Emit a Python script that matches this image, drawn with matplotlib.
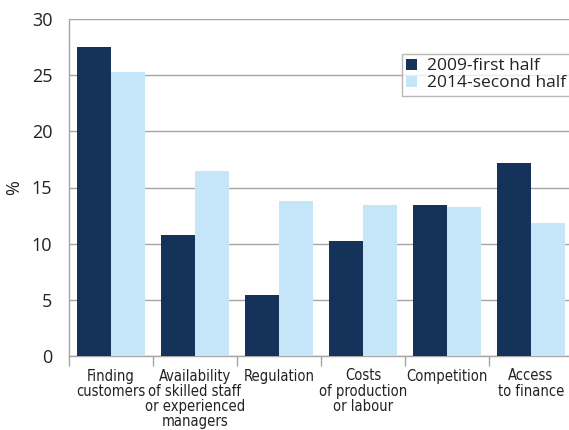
import matplotlib
matplotlib.use("Agg")
import matplotlib.pyplot as plt
from matplotlib import font_manager as fm
import numpy as np

categories = ["Finding\ncustomers",
              "Availability\nof skilled staff\nor experienced\nmanagers",
              "Regulation",
              "Costs\nof production\nor labour",
              "Competition",
              "Access\nto finance"]
series_2009 = [27.5, 10.8, 5.4, 10.2, 13.4, 17.2]
series_2014 = [25.3, 16.5, 13.8, 13.4, 13.3, 11.8]
labels = ["2009-first half", "2014-second half"]
yticks = [0, 5, 10, 15, 20, 25, 30]

dark = "#15335a"
light = "#c5e6f9"
grid_c = "#a6a6a6"
txt_c = "#222222"

plt.rcParams['font.family'] = ['Open Sans', 'DejaVu Sans']

# find a condensed / narrow font if one is installed
narrow = None
for f in fm.fontManager.ttflist:
    n = f.name.lower()
    s = str(f.stretch).lower()
    if ('narrow' in n or 'condensed' in n or 'condensed' in s) and 'bold' not in f.fname.lower() \
            and 'italic' not in f.fname.lower() and 'oblique' not in f.fname.lower():
        narrow = f
        break

fig = plt.figure(figsize=(5.69, 4.30), dpi=100)
ax = fig.add_axes([69/569, 74/430, 504/569, 337/430])

x = np.arange(len(categories))
w = 0.4
ax.bar(x - w/2, series_2009, w, color=dark, label=labels[0], zorder=3)
ax.bar(x + w/2, series_2014, w, color=light, label=labels[1], zorder=3)

ax.set_xlim(-0.5, len(categories) - 0.5)
ax.set_ylim(0, 30)
ax.set_yticks(yticks)
ax.yaxis.grid(True, color=grid_c, linewidth=1.0, zorder=0)
ax.set_axisbelow(True)
for s in ['top', 'right']:
    ax.spines[s].set_visible(False)
for s in ['left', 'bottom']:
    ax.spines[s].set_color(grid_c)
    ax.spines[s].set_linewidth(1.0)

ax.tick_params(axis='y', length=0, pad=12, labelsize=13, labelcolor=txt_c)
ax.set_xticks(np.arange(-0.5, len(categories) - 0.5, 1.0))
ax.set_xticklabels([])
ax.tick_params(axis='x', which='major', length=7, color=grid_c, width=1.0)
ax.set_xticks(x, minor=True)
if narrow is not None:
    fp = fm.FontProperties(fname=narrow.fname, size=10.5)
    ax.set_xticklabels(categories, minor=True, fontproperties=fp,
                       linespacing=1.02, color=txt_c)
else:
    ax.set_xticklabels(categories, minor=True, fontsize=9.5, linespacing=1.02,
                       family=['Roboto', 'DejaVu Sans'], color=txt_c)
ax.tick_params(axis='x', which='minor', length=0, pad=9)

ax.set_ylabel("%", fontsize=13, color=txt_c, labelpad=6)

leg = ax.legend(loc='upper left', bbox_to_anchor=(333/504, 1 - 35/337),
                frameon=True, fancybox=False, edgecolor=grid_c,
                fontsize=12.5, handlelength=0.6, handleheight=0.6,
                handletextpad=0.6, borderpad=0.25, labelspacing=0.05,
                borderaxespad=0)
leg.get_frame().set_linewidth(1.0)
for t in leg.get_texts():
    t.set_color(txt_c)

fig.savefig("out.png", dpi=100)
